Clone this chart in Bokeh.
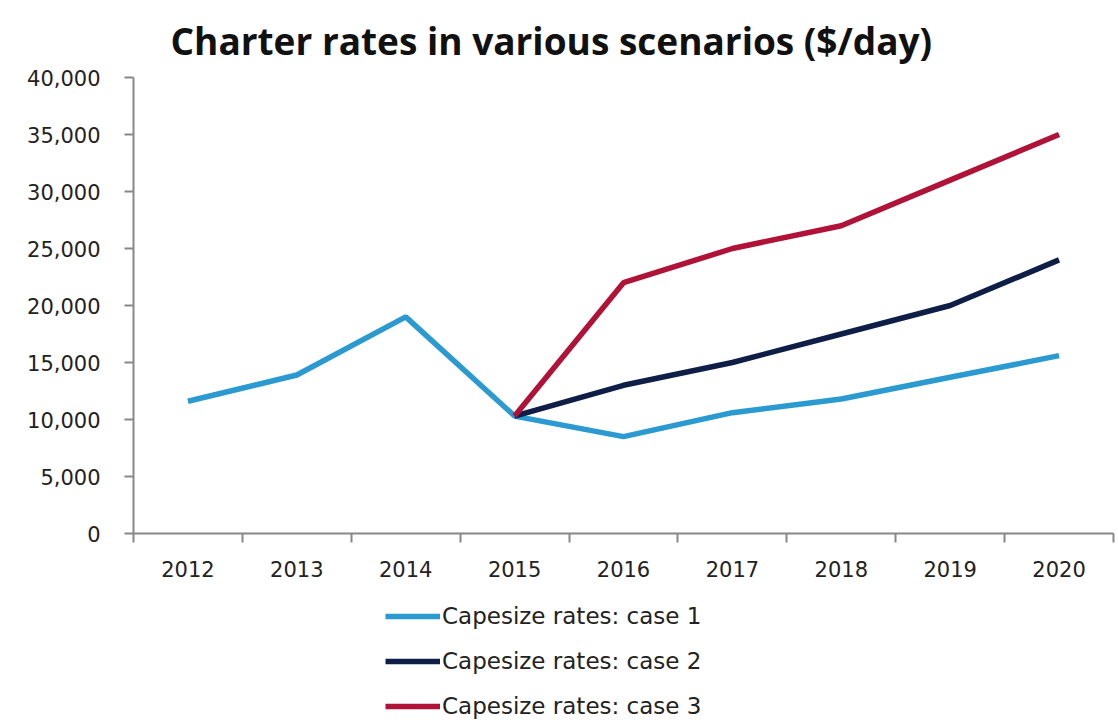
from bokeh.plotting import figure
from bokeh.layouts import column
from bokeh.models import (FactorRange, Range1d, LinearAxis, FixedTicker,
                          NumeralTickFormatter, Legend, LegendItem, ColumnDataSource)
from bokeh.embed import file_html
from bokeh.resources import INLINE

title = "Charter rates in various scenarios ($/day)"
years = ["2012", "2013", "2014", "2015", "2016", "2017", "2018", "2019", "2020"]
case1 = [11600, 13900, 19000, 10300, 8500, 10600, 11800, 13700, 15600]
scenario_years = ["2015", "2016", "2017", "2018", "2019", "2020"]
case2 = [10300, 13000, 15000, 17500, 20000, 24000]
case3 = [10300, 22000, 25000, 27000, 31000, 35000]
labels = ["Capesize rates: case 1", "Capesize rates: case 2", "Capesize rates: case 3"]
colors = ["#2B9AD1", "#0E1E47", "#B01238"]
y_ticks = [0, 5000, 10000, 15000, 20000, 25000, 30000, 35000, 40000]

p = figure(width=1118, height=595, x_range=FactorRange(*years), y_range=Range1d(0, 40000),
           output_backend="svg", toolbar_location=None, x_axis_location=None,
           min_border_left=133, min_border_right=5, min_border_top=77, min_border_bottom=62)
p.outline_line_color = None
p.grid.visible = False
p.background_fill_color = "white"

p.title.text = title
p.title.text_font = "Open Sans"
p.title.text_font_style = "bold"
p.title.text_font_size = "37px"
p.title.align = "left"
p.title.offset = 37
p.title.text_color = "#111111"
p.title.standoff = 24

ya = p.yaxis[0]
ya.ticker = FixedTicker(ticks=y_ticks)
ya.formatter = NumeralTickFormatter(format="0,0")
ya.major_label_text_font = "DejaVu Sans"
ya.major_label_text_font_size = "21px"
ya.major_label_text_color = "#222222"
ya.axis_line_color = "#888888"
ya.axis_line_width = 2
ya.major_tick_line_color = "#888888"
ya.major_tick_line_width = 2
ya.major_tick_in = 0
ya.major_tick_out = 9
ya.minor_tick_line_color = None
ya.major_label_standoff = 24

# x axis: labels at category centres, tick marks at category boundaries
centers = [i + 0.5 for i in range(len(years))]
bounds = list(range(len(years) + 1))
xa = LinearAxis(ticker=FixedTicker(ticks=centers, minor_ticks=bounds))
xa.major_label_overrides = {c: y for c, y in zip(centers, years)}
xa.major_label_text_font = "DejaVu Sans"
xa.major_label_text_font_size = "21px"
xa.major_label_text_color = "#222222"
xa.axis_line_color = "#888888"
xa.axis_line_width = 2
xa.major_tick_line_color = None
xa.minor_tick_line_color = "#888888"
xa.minor_tick_line_width = 2
xa.minor_tick_in = 0
xa.minor_tick_out = 9
xa.major_label_standoff = 18
p.add_layout(xa, "below")

s1 = ColumnDataSource(dict(x=years, y=case1))
s2 = ColumnDataSource(dict(x=scenario_years, y=case2))
s3 = ColumnDataSource(dict(x=scenario_years, y=case3))
p.line("x", "y", source=s1, line_color=colors[0], line_width=5.5)
p.line("x", "y", source=s2, line_color=colors[1], line_width=5.5)
p.line("x", "y", source=s3, line_color=colors[2], line_width=5.5)

# legend strip below the chart
lp = figure(width=1118, height=127, x_range=FactorRange(*years), y_range=Range1d(0, 40000),
            output_backend="svg", toolbar_location=None, min_border=0,
            x_axis_location=None, y_axis_location=None)
lp.outline_line_color = None
lp.grid.visible = False
lr = []
for src, col in zip([s1, s2, s3], colors):
    r = lp.line("x", "y", source=src, line_color=col, line_width=5.5)
    r.visible = False
    lr.append(r)

legend = Legend(items=[LegendItem(label=lab, renderers=[r]) for lab, r in zip(labels, lr)],
                orientation="vertical", location=(252, 3))
legend.label_text_font = "DejaVu Sans"
legend.label_text_font_size = "23px"
legend.label_text_color = "#222222"
legend.glyph_width = 55
legend.glyph_height = 24
legend.label_height = 24
legend.label_standoff = 2
legend.spacing = 19
legend.padding = 4
legend.margin = 0
legend.border_line_color = None
legend.background_fill_alpha = 0
lp.add_layout(legend, "center")

layout = column(p, lp, spacing=0)
open("out.html", "w").write(file_html(layout, INLINE))
